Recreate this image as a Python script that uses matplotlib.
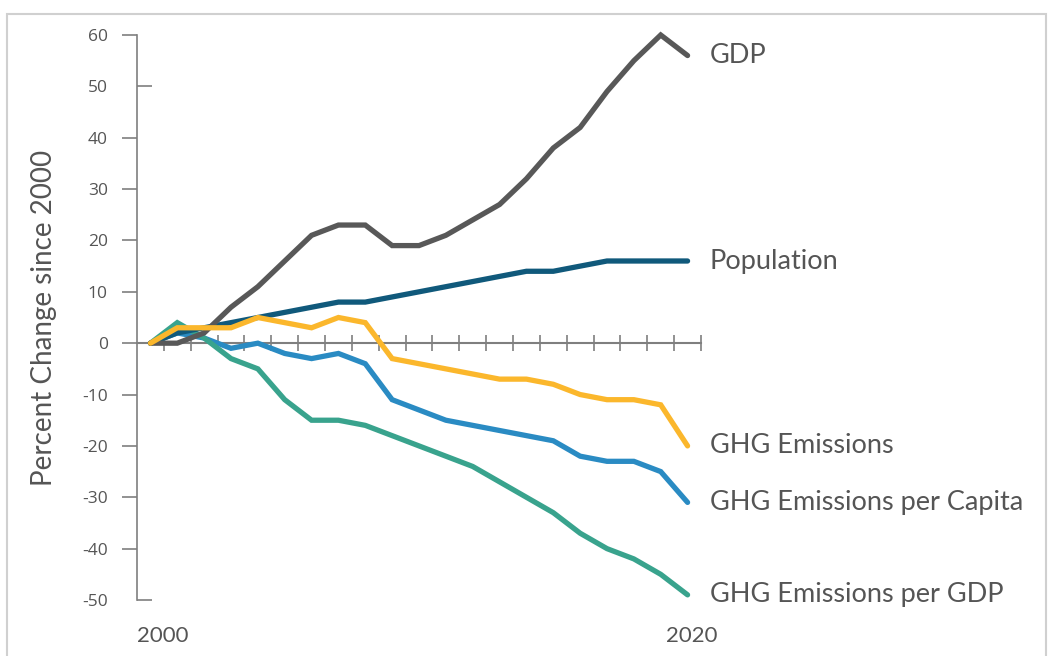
import matplotlib.pyplot as plt
from matplotlib.patches import Rectangle

# ==========================================
# DATA (percent change since 2000)
# ==========================================
years = list(range(2000, 2021))
gdp = [0, 0, 2, 7, 11, 16, 21, 23, 23, 19, 19, 21, 24, 27, 32, 38, 42, 49, 55, 60, 56]
population = [0, 2, 3, 4, 5, 6, 7, 8, 8, 9, 10, 11, 12, 13, 14, 14, 15, 16, 16, 16, 16]
ghg = [0, 3, 3, 3, 5, 4, 3, 5, 4, -3, -4, -5, -6, -7, -7, -8, -10, -11, -11, -12, -20]
ghg_capita = [0, 2, 1, -1, 0, -2, -3, -2, -4, -11, -13, -15, -16, -17, -18, -19, -22, -23, -23, -25, -31]
ghg_gdp = [0, 4, 1, -3, -5, -11, -15, -15, -16, -18, -20, -22, -24, -27, -30, -33, -37, -40, -42, -45, -49]

series_names = ['GDP', 'Population', 'GHG Emissions', 'GHG Emissions per Capita', 'GHG Emissions per GDP']
series_values = [gdp, population, ghg, ghg_capita, ghg_gdp]
series_colors = ['#585858', '#10597b', '#fbb72c', '#2a8bc3', '#39a38d']
series_order = [6, 5, 7, 3, 4]   # drawing order, yellow on top

yticks_left = [60, 40, 30, 20, 10, 0, -10, -20, -30, -40]
yticks_right = [50, -50]

TEXT_COLOR = '#555555'
AXIS_COLOR = '#7f7f7f'

plt.rcParams['font.family'] = ['Lato', 'DejaVu Sans']

fig = plt.figure(figsize=(10.5, 6.56), dpi=100)
ax = fig.add_axes([137 / 1050, 1 - 600 / 656, 564 / 1050, 565 / 656])

# light frame around the figure
fig.patches.append(Rectangle((7 / 1050, -0.05), 1039 / 1050, 1 - 14 / 656 + 0.05,
                             transform=fig.transFigure, fill=False,
                             edgecolor='#d0d0d0', linewidth=1.5))

x = list(range(len(years)))
for name, vals, col, z in zip(series_names, series_values, series_colors, series_order):
    ax.plot(x, vals, color=col, linewidth=3.8, solid_joinstyle='miter',
            solid_capstyle='round', clip_on=False, zorder=z)
    ax.annotate(name, xy=(x[-1], vals[-1]), xytext=(16, 0), textcoords='offset points',
                va='center', ha='left', fontsize=19.5, color=TEXT_COLOR,
                annotation_clip=False)

ax.set_xlim(-0.5, len(years) - 0.5)
ax.set_ylim(-50, 60)

# spines: left axis, zero line as the x-axis
for s in ['top', 'right']:
    ax.spines[s].set_visible(False)
ax.spines['bottom'].set_position(('data', 0))
ax.spines['bottom'].set_color(AXIS_COLOR)
ax.spines['bottom'].set_linewidth(1.5)
ax.spines['left'].set_color(AXIS_COLOR)
ax.spines['left'].set_linewidth(1.2)

ax.set_xticks([i + 0.5 for i in x])
ax.set_xticklabels([])
ax.tick_params(axis='x', direction='inout', length=12, width=1.2, color=AXIS_COLOR)

ax.set_yticks(yticks_left)
ax.set_yticklabels([str(v) for v in yticks_left])
ax.set_yticks(yticks_right, minor=True)
ax.set_yticklabels([str(v) for v in yticks_right], minor=True)
ax.tick_params(axis='y', which='major', direction='out', length=10.5, width=1.2,
               color=AXIS_COLOR, labelcolor=TEXT_COLOR, labelsize=12.5, pad=10.5)
ax.tick_params(axis='y', which='minor', direction='in', length=10.5, width=1.2,
               color=AXIS_COLOR, labelcolor=TEXT_COLOR, labelsize=12.5, pad=21)
for lab in ax.get_yticklabels(which='both'):
    lab.set_fontfamily('Open Sans')

ax.set_ylabel('Percent Change since 2000', fontsize=20, color=TEXT_COLOR, labelpad=18)

# year labels under the chart
ax.text(0.45, -0.064, str(years[0]), transform=ax.get_xaxis_transform(),
        ha='center', va='center', fontsize=16, color=TEXT_COLOR)
ax.text(20.15, -0.064, str(years[-1]), transform=ax.get_xaxis_transform(),
        ha='center', va='center', fontsize=16, color=TEXT_COLOR)

plt.savefig('out.png', dpi=100)
